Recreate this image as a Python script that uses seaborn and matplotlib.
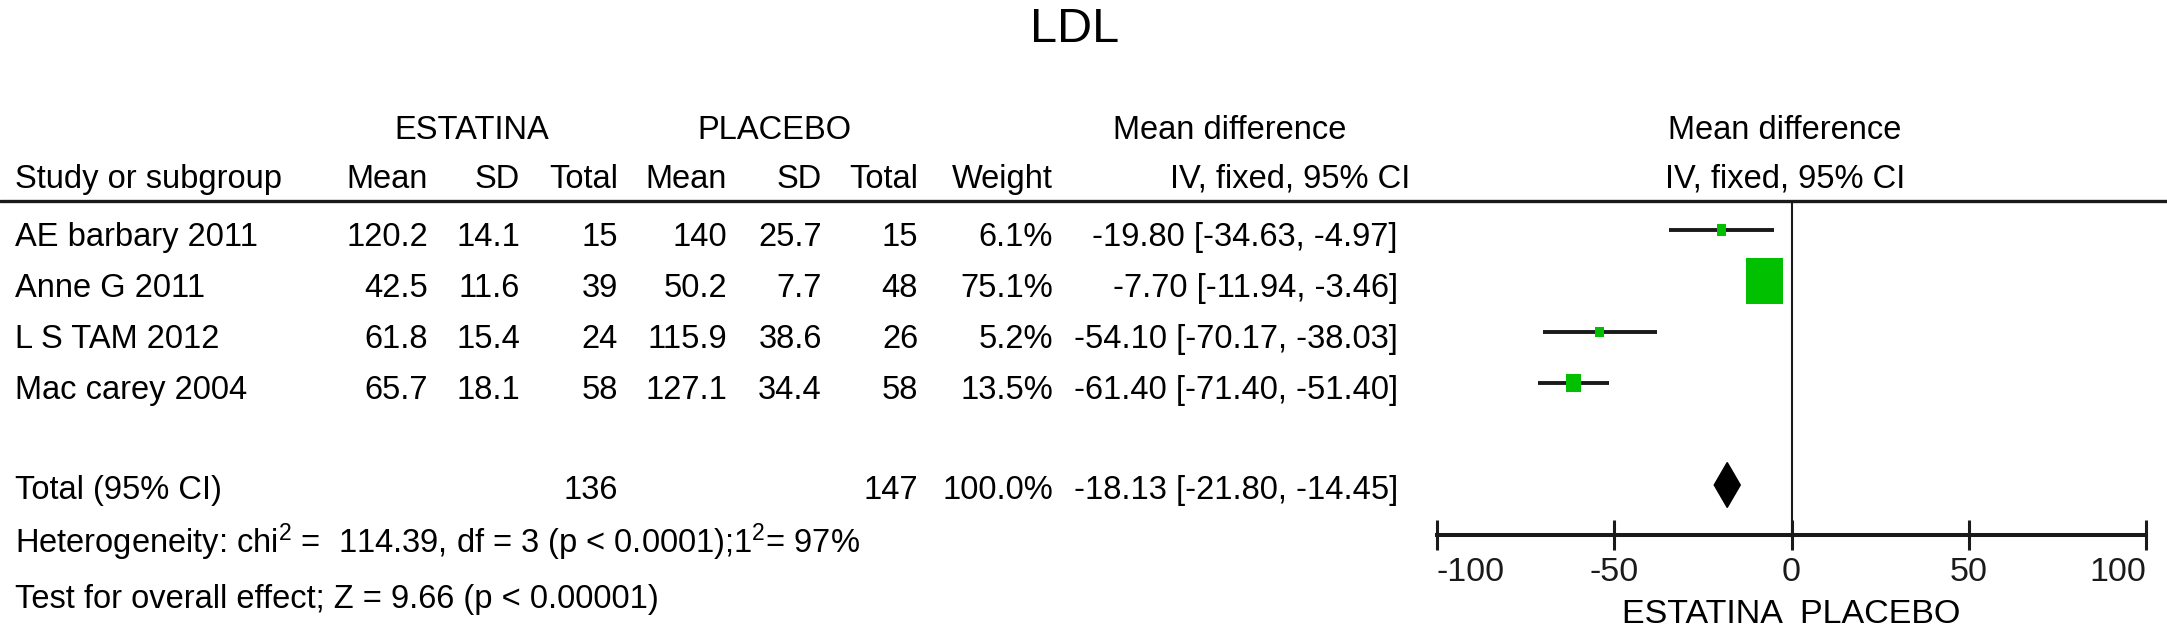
"""
Forest plot of LDL: statin (ESTATINA) versus placebo, fixed-effect mean difference.
"""

import pandas as pd
import seaborn as sns
import matplotlib.pyplot as plt
from matplotlib.path import Path

# Data
STUDIES = ["AE barbary 2011", "Anne G 2011", "L S TAM 2012", "Mac carey 2004"]
EST_MEAN = [120.2, 42.5, 61.8, 65.7]
EST_SD = [14.1, 11.6, 15.4, 18.1]
EST_N = [15, 39, 24, 58]
PLA_MEAN = [140, 50.2, 115.9, 127.1]
PLA_SD = [25.7, 7.7, 38.6, 34.4]
PLA_N = [15, 48, 26, 58]
WEIGHTS = [6.1, 75.1, 5.2, 13.5]
MD = [-19.80, -7.70, -54.10, -61.40]
CI_LO = [-34.63, -11.94, -70.17, -71.40]
CI_HI = [-4.97, -3.46, -38.03, -51.40]

TOTAL_EST_N = 136
TOTAL_PLA_N = 147
TOTAL_WEIGHT = 100.0
TOTAL_MD = -18.13
TOTAL_LO = -21.80
TOTAL_HI = -14.45

HETEROGENEITY = r"Heterogeneity: chi$^{2}$ =  114.39, df = 3 (p < 0.0001);1$^{2}$= 97%"
OVERALL = "Test for overall effect; Z = 9.66 (p < 0.00001)"
XTICKS = [-100, -50, 0, 50, 100]

# Layout (pixels of the 2167 x 633 output)
W, H = 2167, 633
ROW0_PX, ROW_PX = 230, 51
TOTAL_ROW = 5
GREEN = "#00c000"
INK = "#1a1a1a"


def px_row(y):
    """Convert a vertical pixel position to row units."""
    return (y - ROW0_PX) / ROW_PX


def fmt(v):
    return f"{v:g}"


def main():
    sns.set_theme(
        style="ticks",
        rc={"text.color": "black", "axes.labelcolor": "black",
            "xtick.color": INK, "axes.edgecolor": INK},
    )
    plt.rcParams["font.family"] = ["Liberation Sans", "DejaVu Sans"]
    plt.rcParams["mathtext.fontset"] = "custom"
    plt.rcParams["mathtext.rm"] = "Liberation Sans"
    plt.rcParams["mathtext.it"] = "Liberation Sans:italic"

    fig = plt.figure(figsize=(W / 100, H / 100), dpi=100)

    # Table axes: x in pixels, y in row units
    tab = fig.add_axes([0, 0, 1, 1])
    tab.set_xlim(0, W)
    tab.set_ylim(px_row(H), px_row(0))
    tab.axis("off")

    fs = 23.5
    tab.text(1075, px_row(42), "LDL", fontsize=35, ha="center", va="baseline")

    # Header lines
    y1 = px_row(139)
    y2 = px_row(188)
    tab.text(472, y1, "ESTATINA", fontsize=fs, ha="center", va="baseline")
    tab.text(774, y1, "PLACEBO", fontsize=fs, ha="center", va="baseline")
    tab.text(1230, y1, "Mean difference", fontsize=fs, ha="center", va="baseline")
    tab.text(1785, y1, "Mean difference", fontsize=fs, ha="center", va="baseline")

    tab.text(15, y2, "Study or subgroup", fontsize=fs, ha="left", va="baseline")
    col_right = [428, 520, 618, 727, 822, 918, 1053]
    headers = ["Mean", "SD", "Total", "Mean", "SD", "Total", "Weight"]
    for x, h in zip(col_right, headers):
        tab.text(x, y2, h, fontsize=fs, ha="right", va="baseline")
    tab.text(1410, y2, "IV, fixed, 95% CI", fontsize=fs, ha="right", va="baseline")
    tab.text(1785, y2, "IV, fixed, 95% CI", fontsize=fs, ha="center", va="baseline")

    tab.axhline(px_row(201.5), color=INK, lw=2.4)

    # Study rows
    for i, name in enumerate(STUDIES):
        y = i + 0.32
        cells = [fmt(EST_MEAN[i]), fmt(EST_SD[i]), str(EST_N[i]),
                 fmt(PLA_MEAN[i]), fmt(PLA_SD[i]), str(PLA_N[i]),
                 f"{WEIGHTS[i]:.1f}%"]
        tab.text(15, y, name, fontsize=fs, ha="left", va="baseline")
        for x, c in zip(col_right, cells):
            tab.text(x, y, c, fontsize=fs, ha="right", va="baseline")
        tab.text(1398, y, f"{MD[i]:.2f} [{CI_LO[i]:.2f}, {CI_HI[i]:.2f}]",
                 fontsize=fs, ha="right", va="baseline")

    # Total row
    yt = TOTAL_ROW + 0.27
    tab.text(15, yt, "Total (95% CI)", fontsize=fs, ha="left", va="baseline")
    tab.text(col_right[2], yt, str(TOTAL_EST_N), fontsize=fs, ha="right", va="baseline")
    tab.text(col_right[5], yt, str(TOTAL_PLA_N), fontsize=fs, ha="right", va="baseline")
    tab.text(col_right[6], yt, f"{TOTAL_WEIGHT:.1f}%", fontsize=fs, ha="right", va="baseline")
    tab.text(1398, yt, f"{TOTAL_MD:.2f} [{TOTAL_LO:.2f}, {TOTAL_HI:.2f}]",
             fontsize=fs, ha="right", va="baseline")

    tab.text(15, px_row(553), HETEROGENEITY, fontsize=fs, ha="left", va="baseline")
    tab.text(15, px_row(608), OVERALL, fontsize=fs, ha="left", va="baseline")

    # Forest axes
    top_px, axis_px = 201.5, 535
    left_px, right_px = 1437, 2146
    fa = fig.add_axes([left_px / W, 1 - axis_px / H,
                       (right_px - left_px) / W, (axis_px - top_px) / H])
    fa.set_xlim(XTICKS[0], XTICKS[-1])
    fa.set_ylim(px_row(axis_px), px_row(top_px))
    fa.patch.set_alpha(0)

    rows = list(range(len(STUDIES)))
    df = pd.DataFrame({"md": MD, "row": rows, "weight": WEIGHTS})

    fa.axvline(0, color=INK, lw=1.5, zorder=1)
    fa.hlines(rows, CI_LO, CI_HI, color=INK, lw=2.8, zorder=2)

    rect = Path([(-0.4, -0.5), (0.4, -0.5), (0.4, 0.5), (-0.4, 0.5), (-0.4, -0.5)],
                closed=True)
    sns.scatterplot(
        data=df, x="md", y="row", size="weight",
        sizes=(60, 1100), size_norm=(min(WEIGHTS), max(WEIGHTS)),
        marker=rect, color=GREEN, edgecolor="none", linewidth=0,
        legend=False, ax=fa, zorder=3,
    )

    h = 0.44
    fa.fill([TOTAL_LO, TOTAL_MD, TOTAL_HI, TOTAL_MD],
            [TOTAL_ROW, TOTAL_ROW - h, TOTAL_ROW, TOTAL_ROW + h],
            color="black", zorder=3)

    sns.despine(ax=fa, left=True, top=True, right=True)
    fa.spines["bottom"].set_linewidth(2.9)
    fa.set_yticks([])
    fa.set_ylabel("")
    fa.set_xticks(XTICKS)
    fa.set_xticklabels([str(t) for t in XTICKS])
    fa.tick_params(axis="x", bottom=True, direction="inout", length=21.6,
                   width=2.2, labelsize=24.5, pad=5)
    labels = fa.get_xticklabels()
    labels[0].set_horizontalalignment("left")
    labels[-1].set_horizontalalignment("right")
    fa.set_xlabel("ESTATINA  PLACEBO", fontsize=24.5, labelpad=8)

    fig.savefig("out.png", dpi=100)
    plt.close(fig)


if __name__ == "__main__":
    main()
